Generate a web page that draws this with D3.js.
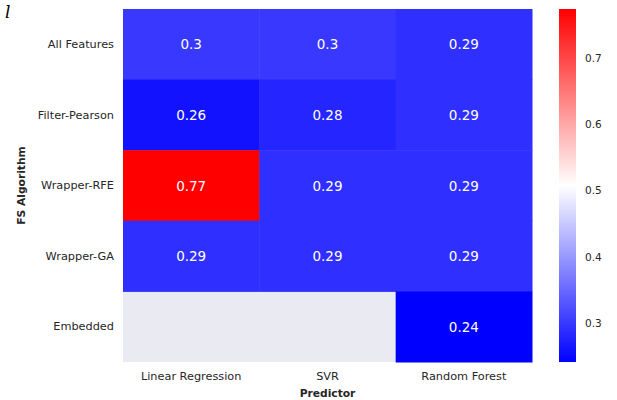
<!DOCTYPE html>
<html>
<head>
<meta charset="utf-8">
<script src="https://cdn.jsdelivr.net/npm/d3@7"></script>
<style>
  body { margin: 0; background: #fff; }
  svg { display: block; font-family: "DejaVu Sans", sans-serif; }
</style>
</head>
<body>
<svg id="chart" width="617" height="400"></svg>
<script>
// Feature-selection algorithms (rows) and predictors (columns)
const algorithms = ["All Features", "Filter-Pearson", "Wrapper-RFE", "Wrapper-GA", "Embedded"];
const predictors = ["Linear Regression", "SVR", "Random Forest"];

// Error per predictor, one entry per algorithm (null = not evaluated)
const linearRegression = [0.300, 0.260, 0.774, 0.290, null];
const svr              = [0.300, 0.280, 0.290, 0.290, null];
const randomForest     = [0.290, 0.290, 0.290, 0.290, 0.241];

const colorbarTicks = [0.3, 0.4, 0.5, 0.6, 0.7];

const columns = [linearRegression, svr, randomForest];
const cells = [];
algorithms.forEach((a, i) => {
  predictors.forEach((p, j) => {
    cells.push({ algorithm: a, predictor: p, value: columns[j][i] });
  });
});

const svg = d3.select("#chart");
const plot = { left: 123, right: 532, top: 9, bottom: 362 };

const vals = cells.map(d => d.value).filter(v => v != null);
const vmin = d3.min(vals), vmax = d3.max(vals);

// blue-white-red diverging map
const bwr = t => {
  t = Math.max(0, Math.min(1, t));
  if (t < 0.5) { const c = Math.round(255 * 2 * t); return `rgb(${c},${c},255)`; }
  const c = Math.round(255 * 2 * (1 - t));
  return `rgb(255,${c},${c})`;
};
const norm = d3.scaleLinear().domain([vmin, vmax]).range([0, 1]);
const color = v => bwr(norm(v));

const x = d3.scaleBand().domain(predictors).range([plot.left, plot.right]);
const y = d3.scaleBand().domain(algorithms).range([plot.top, plot.bottom]);

// axes background (visible where a cell is missing)
svg.append("rect")
  .attr("x", plot.left).attr("y", plot.top)
  .attr("width", plot.right - plot.left).attr("height", plot.bottom - plot.top)
  .attr("fill", "#EAEAF2");

const present = cells.filter(d => d.value != null);

svg.append("g").selectAll("rect")
  .data(present)
  .join("rect")
  .attr("x", d => x(d.predictor))
  .attr("y", d => y(d.algorithm))
  .attr("width", x.bandwidth() + 0.5)
  .attr("height", y.bandwidth() + 0.5)
  .attr("fill", d => color(d.value));

const fmt = d3.format(".2~g");
svg.append("g").selectAll("text")
  .data(present)
  .join("text")
  .attr("x", d => x(d.predictor) + x.bandwidth() / 2)
  .attr("y", d => y(d.algorithm) + y.bandwidth() / 2)
  .attr("text-anchor", "middle")
  .attr("dominant-baseline", "central")
  .attr("font-size", 13.5)
  .attr("fill", "#ffffff")
  .text(d => fmt(d.value));

// axes without lines or tick marks
const xAxis = svg.append("g")
  .attr("transform", `translate(0,${plot.bottom})`)
  .call(d3.axisBottom(x).tickSize(0).tickPadding(10));
const yAxis = svg.append("g")
  .attr("transform", `translate(${plot.left},0)`)
  .call(d3.axisLeft(y).tickSize(0).tickPadding(9));
[xAxis, yAxis].forEach(g => {
  g.select(".domain").remove();
  g.selectAll("text").attr("font-size", 11.3).attr("fill", "#262626")
    .attr("font-family", "DejaVu Sans, sans-serif");
});

svg.append("text")
  .attr("x", (plot.left + plot.right) / 2).attr("y", 397)
  .attr("text-anchor", "middle")
  .attr("font-size", 10.7).attr("font-weight", "bold").attr("fill", "#262626")
  .text("Predictor");

svg.append("text")
  .attr("transform", `translate(25,${(plot.top + plot.bottom) / 2}) rotate(-90)`)
  .attr("text-anchor", "middle")
  .attr("font-size", 10.7).attr("font-weight", "bold").attr("fill", "#262626")
  .text("FS Algorithm");

// colorbar
const cb = { x: 559, w: 17 };
const cbScale = d3.scaleLinear().domain([vmin, vmax]).range([plot.bottom, plot.top]);
const grad = svg.append("defs").append("linearGradient")
  .attr("id", "cbgrad").attr("x1", 0).attr("y1", 1).attr("x2", 0).attr("y2", 0);
d3.range(0, 1.0001, 0.05).forEach(t => {
  grad.append("stop").attr("offset", t).attr("stop-color", bwr(t));
});
svg.append("rect")
  .attr("x", cb.x).attr("y", plot.top)
  .attr("width", cb.w).attr("height", plot.bottom - plot.top)
  .attr("fill", "url(#cbgrad)");

const cbAxis = svg.append("g")
  .attr("transform", `translate(${cb.x + cb.w},0)`)
  .call(d3.axisRight(cbScale).tickValues(colorbarTicks).tickSize(0).tickPadding(9).tickFormat(d3.format(".1f")));
cbAxis.select(".domain").remove();
cbAxis.selectAll("text").attr("font-size", 10.5).attr("fill", "#262626")
  .attr("font-family", "DejaVu Sans, sans-serif");

// stray glyph at the top-left corner
svg.append("text")
  .attr("x", 5).attr("y", 18)
  .attr("font-family", "DejaVu Serif, serif").attr("font-style", "italic")
  .attr("font-size", 17).attr("fill", "#000")
  .text("l");
</script>
</body>
</html>
